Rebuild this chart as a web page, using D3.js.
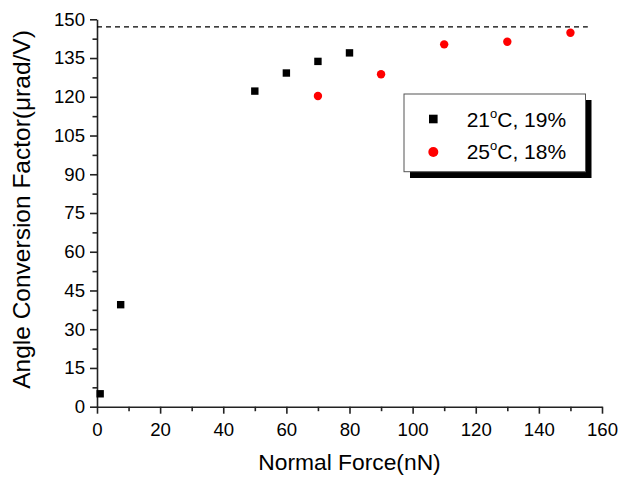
<!DOCTYPE html>
<html><head><meta charset="utf-8">
<script src="https://cdn.jsdelivr.net/npm/d3@7"></script>
<style>body{margin:0;background:#fff}svg{display:block}text{font-family:Arial,"Liberation Sans",sans-serif;fill:#000}</style>
</head><body>
<script>
const series1Name = "21", series1Rest = "C, 19%";
const series2Name = "25", series2Rest = "C, 18%";
const s1x = [1, 7.5, 50, 60, 70, 80];
const s1y = [5, 39.5, 122.2, 129.2, 133.7, 137.0];
const s2x = [70, 90, 110, 130, 150];
const s2y = [120.3, 128.7, 140.3, 141.3, 144.8];
const xTicks = [0, 20, 40, 60, 80, 100, 120, 140, 160];
const yTicks = [0, 15, 30, 45, 60, 75, 90, 105, 120, 135, 150];
const refLine = 147.1;
const xTitle = "Normal Force(nN)";
const yTitle = "Angle Conversion Factor(\u03bcrad/V)";

const W = 619, H = 479;
const svg = d3.select("body").append("svg").attr("width", W).attr("height", H);
const x = d3.scaleLinear().domain([0, 160]).range([97, 602]);
const y = d3.scaleLinear().domain([0, 150]).range([406.7, 19.3]);

// minor ticks
const xMinor = d3.range(10, 160, 20);
const yMinor = d3.range(7.5, 150, 15);
svg.append("g").attr("transform", `translate(0,${y(0)})`)
  .call(d3.axisBottom(x).tickValues(xMinor).tickSize(4.5).tickSizeOuter(0).tickFormat(""))
  .call(g => g.select(".domain").remove());
svg.append("g").attr("transform", `translate(${x(0)},0)`)
  .call(d3.axisLeft(y).tickValues(yMinor).tickSize(4.5).tickSizeOuter(0).tickFormat(""))
  .call(g => g.select(".domain").remove());

const gx = svg.append("g").attr("transform", `translate(0,${y(0)})`)
  .call(d3.axisBottom(x).tickValues(xTicks).tickSize(7).tickSizeOuter(0).tickPadding(9));
const gy = svg.append("g").attr("transform", `translate(${x(0)},0)`)
  .call(d3.axisLeft(y).tickValues(yTicks).tickSize(7).tickSizeOuter(0).tickPadding(5));
[gx, gy].forEach(g => {
  g.selectAll("text").style("font-size", "18.6px").style("font-family", "Arial, 'Liberation Sans', sans-serif");
  g.attr("font-family", null);
});
svg.selectAll(".domain, .tick line").attr("stroke", "#222").attr("stroke-width", 1.6);

// dashed reference line
svg.append("line").attr("x1", x(0)).attr("x2", x(155.5)).attr("y1", y(refLine)).attr("y2", y(refLine))
  .attr("stroke", "#000").attr("stroke-width", 1.3).attr("stroke-dasharray", "5,4");

// data
const sq = 7.4;
svg.append("g").selectAll("rect").data(s1x.map((d, i) => [d, s1y[i]])).join("rect")
  .attr("x", d => x(d[0]) - sq / 2).attr("y", d => y(d[1]) - sq / 2)
  .attr("width", sq).attr("height", sq).attr("fill", "#000");
svg.append("g").selectAll("circle").data(s2x.map((d, i) => [d, s2y[i]])).join("circle")
  .attr("cx", d => x(d[0])).attr("cy", d => y(d[1])).attr("r", 4.2).attr("fill", "#ff0000");

// axis titles
svg.append("text").attr("x", (x(0) + x(160)) / 2).attr("y", 469.5).attr("text-anchor", "middle")
  .style("font-size", "22.8px").text(xTitle);
svg.append("text").attr("transform", "translate(29.5,209.5) rotate(-90)").attr("text-anchor", "middle")
  .style("font-size", "24.5px").text(yTitle);

// legend
const lg = svg.append("g");
lg.append("rect").attr("x", 410).attr("y", 100).attr("width", 181.5).attr("height", 78).attr("fill", "#000");
lg.append("rect").attr("x", 404).attr("y", 94).attr("width", 181.5).attr("height", 77.7)
  .attr("fill", "#fff").attr("stroke", "#555").attr("stroke-width", 1);
lg.append("rect").attr("x", 433.3 - 4.3).attr("y", 119 - 4.3).attr("width", 8.6).attr("height", 8.6).attr("fill", "#000");
lg.append("circle").attr("cx", 433.3).attr("cy", 152).attr("r", 5).attr("fill", "#ff0000");
function legText(yb, a, b) {
  const t = lg.append("text").attr("x", 466.7).attr("y", yb).style("font-size", "21px");
  t.append("tspan").text(a);
  t.append("tspan").attr("dy", -9).style("font-size", "13px").text("o");
  t.append("tspan").attr("dy", 9).text(b);
}
legText(126.7, series1Name, series1Rest);
legText(159.2, series2Name, series2Rest);
</script>
</body></html>
